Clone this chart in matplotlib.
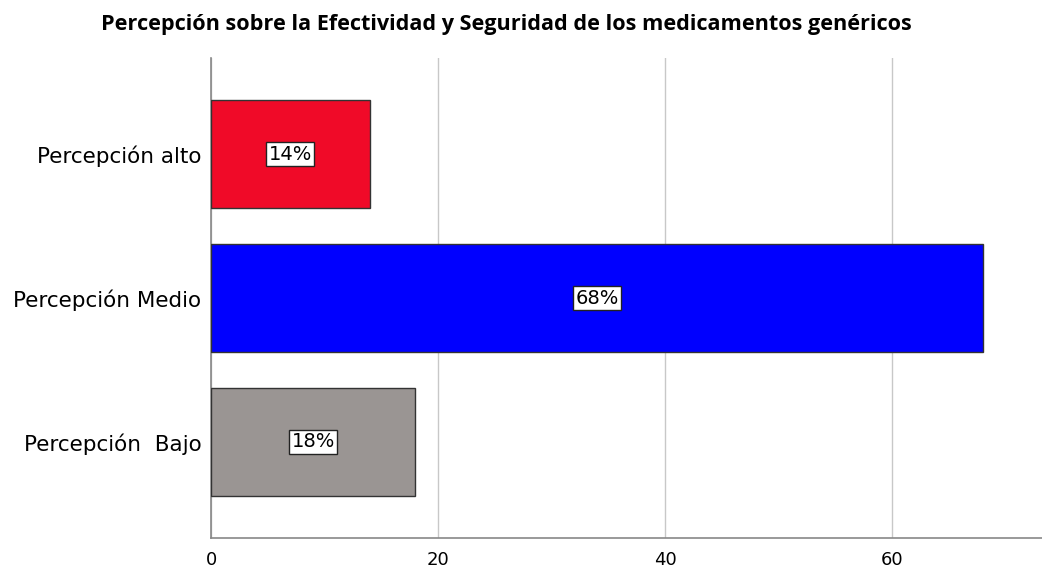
import matplotlib
matplotlib.use("Agg")
import matplotlib.pyplot as plt
from matplotlib import font_manager

categories = ["Percepción  Bajo", "Percepción Medio", "Percepción alto"]
values = [18, 68, 14]
labels = ["18%", "68%", "14%"]
colors = ["#9A9593", "#0000FF", "#F00A28"]
xticks = [0, 20, 40, 60]
title = "Percepción sobre la Efectividad y Seguridad de los medicamentos genéricos"

names = {f.name for f in font_manager.fontManager.ttflist}
title_family = ["Liberation Sans Narrow", "DejaVu Sans"] if "Liberation Sans Narrow" in names else ["Open Sans", "DejaVu Sans"]

fig = plt.figure(figsize=(10.42, 5.72), dpi=100)
ax = fig.add_axes([0.2025, 0.0594, 0.7975, 0.8392])

pos = list(range(len(categories)))
ax.barh(pos, values, height=0.75, color=colors, edgecolor="#333333", linewidth=1.0, zorder=3)
for p, v, t in zip(pos, values, labels):
    ax.text(v / 2, p, t, ha="center", va="center", fontsize=14, family="DejaVu Sans",
            bbox=dict(boxstyle="square,pad=0.12", facecolor="white", edgecolor="#222222", linewidth=1),
            zorder=4)

ax.set_xlim(0, 73.2)
ax.set_ylim(-0.667, 2.667)
ax.set_yticks(pos)
ax.set_yticklabels(categories, fontsize=15.5)
ax.set_xticks(xticks)
ax.set_xticklabels([str(x) for x in xticks], fontsize=13)
ax.tick_params(axis="both", length=0)
ax.tick_params(axis="y", pad=7)
ax.tick_params(axis="x", pad=9)
ax.xaxis.grid(True, color="#C8C8C8", linewidth=1, zorder=0)
ax.set_axisbelow(True)
for s in ["top", "right"]:
    ax.spines[s].set_visible(False)
for s in ["left", "bottom"]:
    ax.spines[s].set_color("#888888")
    ax.spines[s].set_linewidth(1.2)

fig.text(0.486, 0.958, title, ha="center", va="center", fontsize=15.6, fontweight="bold",
         family=title_family)

fig.savefig("out.png", dpi=100)
